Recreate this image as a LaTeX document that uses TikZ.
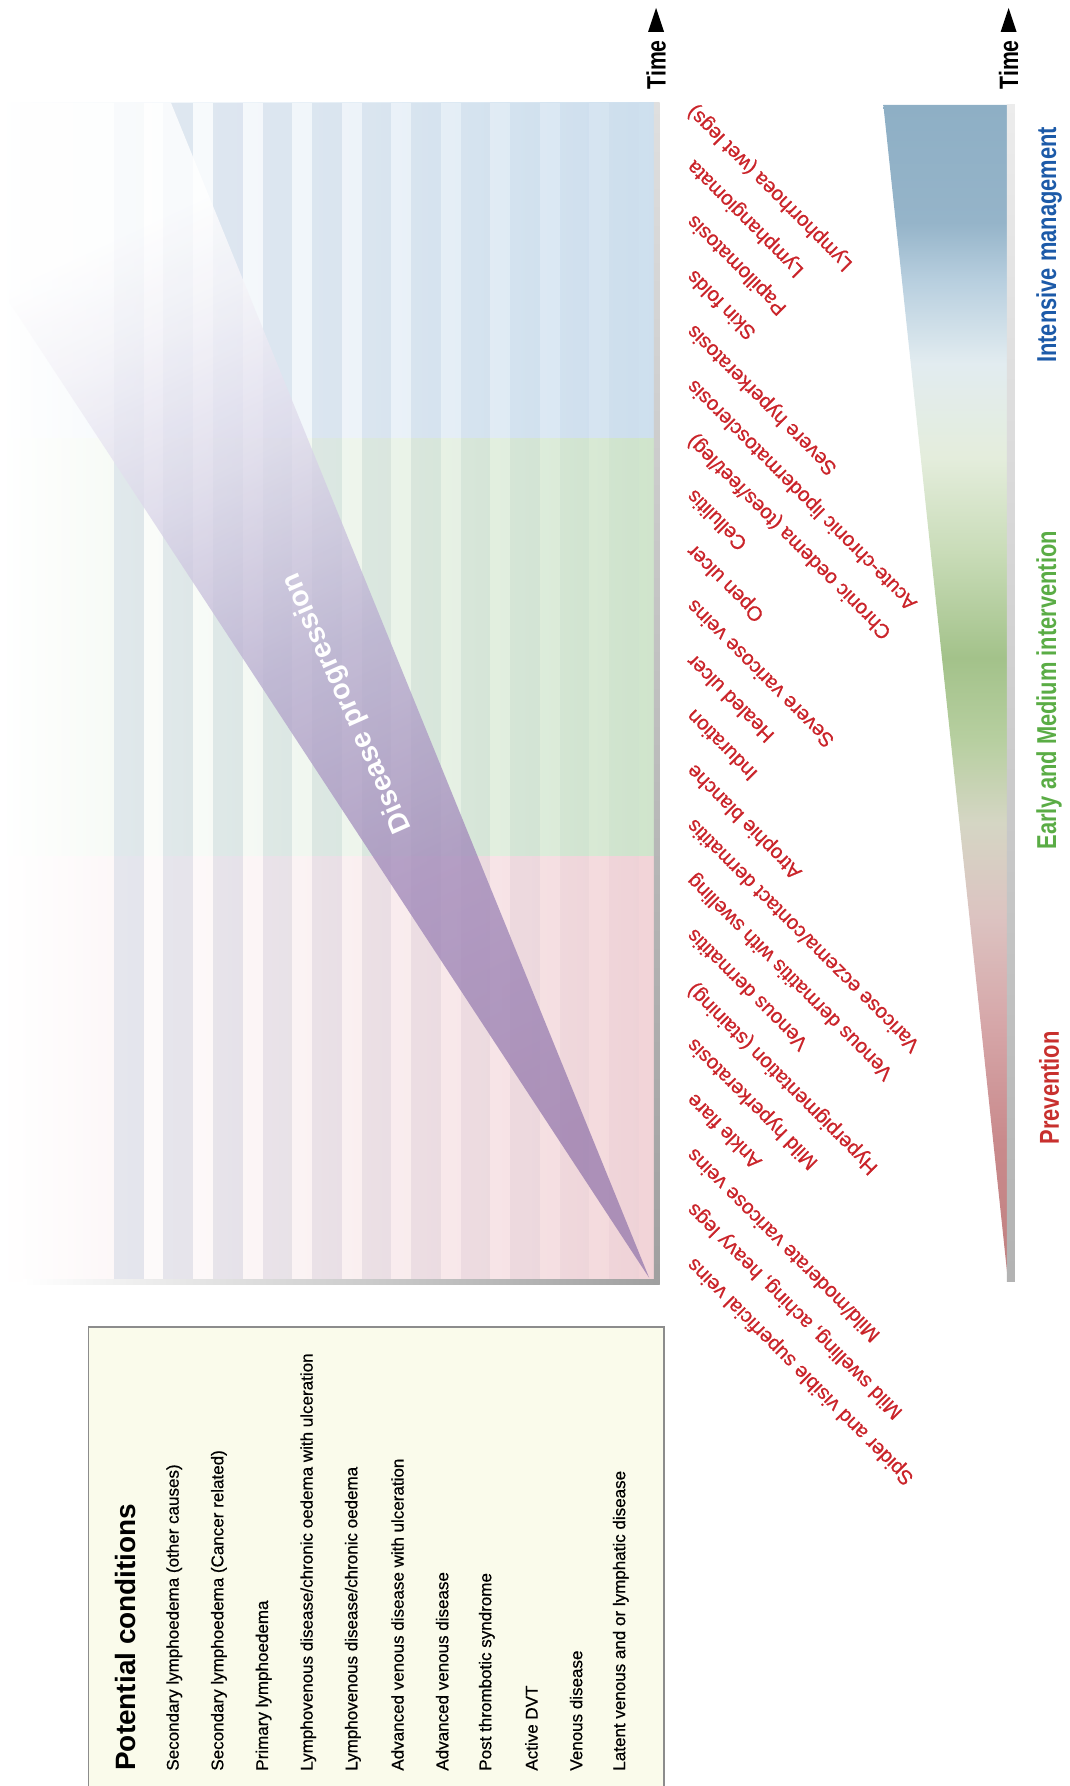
\documentclass[tikz,border=0pt]{standalone}
\usepackage{fontspec}
\setmainfont{Liberation Sans}
\newfontfamily\narrowfont[FakeStretch=0.8]{Liberation Sans}
\newfontfamily\labelfont[FakeBold=0.6]{Liberation Sans}

\definecolor{bandblue}{RGB}{205,223,238}
\definecolor{bandgreen}{RGB}{207,228,203}
\definecolor{bandpink}{RGB}{242,211,215}
\definecolor{bandpeach}{RGB}{238,222,214}
\definecolor{stripeblue}{RGB}{174,191,214}
\definecolor{symptomred}{RGB}{202,36,42}
\definecolor{managblue}{RGB}{28,90,168}
\definecolor{intergreen}{RGB}{90,172,69}
\definecolor{prevred}{RGB}{200,48,46}
\definecolor{boxcream}{RGB}{250,251,235}
\definecolor{boxgray}{RGB}{140,140,140}
% treatment triangle, bottom to top
\definecolor{trA}{RGB}{192,128,128}
\definecolor{trB}{RGB}{201,138,140}
\definecolor{trC}{RGB}{214,167,169}
\definecolor{trD}{RGB}{220,195,193}
\definecolor{trE}{RGB}{213,214,196}
\definecolor{trF}{RGB}{183,207,160}
\definecolor{trG}{RGB}{163,194,138}
\definecolor{trH}{RGB}{201,220,184}
\definecolor{trI}{RGB}{228,237,220}
\definecolor{trJ}{RGB}{226,236,240}
\definecolor{trK}{RGB}{184,207,223}
\definecolor{trL}{RGB}{149,180,201}
\definecolor{trM}{RGB}{142,175,197}
% wedge, apex to top
\definecolor{wgA}{RGB}{154,126,175}
\definecolor{wgB}{RGB}{163,140,187}
\definecolor{wgC}{RGB}{185,174,208}
\definecolor{wgD}{RGB}{220,216,234}
\definecolor{wgE}{RGB}{244,243,248}

\pgfdeclareverticalshading{treatment}{100bp}{color(0bp)=(trA); color(25bp)=(trA);
  color(31bp)=(trB); color(36bp)=(trC); color(40.5bp)=(trD); color(44.5bp)=(trE);
  color(48bp)=(trF); color(51.5bp)=(trG); color(56bp)=(trH); color(60bp)=(trI);
  color(64bp)=(trJ); color(67.5bp)=(trK); color(70bp)=(trL); color(75bp)=(trM);
  color(100bp)=(trM)}
\pgfdeclareverticalshading{wedge}{100bp}{color(0bp)=(wgA); color(25bp)=(wgA);
  color(40bp)=(wgB); color(52bp)=(wgC); color(62bp)=(wgD); color(70bp)=(wgE);
  color(75bp)=(white); color(100bp)=(white)}

\tikzset{every picture/.style={line width=0.75pt}}
\tikzset{
  symptom/.style={anchor=north east, inner sep=0pt, rotate=135, text=symptomred,
    font=\labelfont\fontsize{13.4}{15}\selectfont},
  condition/.style={anchor=west, inner sep=0pt, rotate=90, font=\labelfont\fontsize{11.2}{13}\selectfont},
  timelabel/.style={anchor=west, inner sep=0pt, rotate=90, font=\narrowfont\bfseries\fontsize{17.5}{19}\selectfont},
  phase/.style={inner sep=0pt, rotate=90, font=\narrowfont\bfseries\fontsize{18}{20}\selectfont}
}

\begin{document}
\begin{tikzpicture}[x=0.75pt,y=0.75pt,yscale=-1,xscale=1]
	\useasboundingbox (0,0) rectangle (939,1568);

	%Shape: Bands
	\shade [left color=white, middle color=bandblue!75, right color=bandblue] (0,90) rectangle (578,385);
	\shade [left color=white, middle color=bandgreen!75, right color=bandgreen] (0,385) rectangle (578,752);
	\shade [left color=white, middle color=bandpeach!75, right color=bandpink] (0,752) rectangle (578,870);
	\shade [left color=white, middle color=bandpink!75, right color=bandpink] (0,870) rectangle (578,1125);

	%Shape: Stripes
	\fill [stripeblue, fill opacity=0.30] (100,90) rectangle (126,1125);
	\fill [stripeblue, fill opacity=0.27] (143.5,90) rectangle (169.5,1125);
	\fill [stripeblue, fill opacity=0.25] (187,90) rectangle (213,1125);
	\fill [stripeblue, fill opacity=0.22] (230.5,90) rectangle (256.5,1125);
	\fill [stripeblue, fill opacity=0.20] (274,90) rectangle (300,1125);
	\fill [stripeblue, fill opacity=0.17] (317.5,90) rectangle (343.5,1125);
	\fill [stripeblue, fill opacity=0.15] (361,90) rectangle (387,1125);
	\fill [stripeblue, fill opacity=0.12] (404.5,90) rectangle (430.5,1125);
	\fill [stripeblue, fill opacity=0.10] (448,90) rectangle (474,1125);
	\fill [stripeblue, fill opacity=0.07] (491.5,90) rectangle (517.5,1125);
	\fill [stripeblue, fill opacity=0.05] (535,90) rectangle (561,1125);
	\fill [white, fill opacity=0.55] (126,90) rectangle (143.5,1125);
	\fill [white, fill opacity=0.50] (169.5,90) rectangle (187,1125);
	\fill [white, fill opacity=0.45] (213,90) rectangle (230.5,1125);
	\fill [white, fill opacity=0.40] (256.5,90) rectangle (274,1125);
	\fill [white, fill opacity=0.35] (300,90) rectangle (317.5,1125);
	\fill [white, fill opacity=0.30] (343.5,90) rectangle (361,1125);
	\fill [white, fill opacity=0.25] (387,90) rectangle (404.5,1125);
	\fill [white, fill opacity=0.20] (430.5,90) rectangle (448,1125);
	\fill [white, fill opacity=0.15] (474,90) rectangle (491.5,1125);
	\fill [white, fill opacity=0.10] (517.5,90) rectangle (535,1125);

	%Shape: Disease progression wedge
	\shade [shading=wedge, shading angle=25, fill opacity=0.8] (570,1122) -- (8,265) -- (8,90) -- (150,90) -- cycle;

	%Shape: Axes
	\shade [top color=gray!25, bottom color=gray!75] (574,90) rectangle (579,1128);
	\shade [left color=white, right color=gray!75] (20,1123) rectangle (579,1128);
	\fill (569,28) -- (576,7) -- (583,28) -- cycle;
	\node [timelabel] (time1) at (576,79) {Time};

	% Text Node
	\node [rotate=114, text=white, font=\bfseries\fontsize{18.8}{20}\selectfont] (progression) at (305,617) {Disease progression};

	%Shape: Treatment triangle
	\shade [shading=treatment] (775.5,92) -- (885,92) -- (885,1125) -- cycle;
	\shade [top color=gray!15, bottom color=gray!60] (884,92) rectangle (891,1125);
	\fill (878.5,28) -- (885.5,7) -- (892.5,28) -- cycle;
	\node [timelabel] (time2) at (885.5,79) {Time};
	\node [phase, text=managblue] (intensive) at (921,215) {Intensive management};
	\node [phase, text=intergreen] (early) at (921,606) {Early and Medium intervention};
	\node [phase, text=prevred] (prevention) at (921,955) {Prevention};

	% Symptoms
	\node [symptom] (lymphorrhoea) at (600,101) {Lymphorrhoea (wet legs)};
	\node [symptom] (lymphangiomata) at (600,149.2) {Lymphangiomata};
	\node [symptom] (papillomatosis) at (600,197.4) {Papillomatosis};
	\node [symptom] (skinfolds) at (600,245.6) {Skin folds};
	\node [symptom] (sevhyper) at (600,293.8) {Severe hyperkeratosis};
	\node [symptom] (lipoderm) at (600,342) {Acute-chronic lipodermatosclerosis};
	\node [symptom] (chronoedema) at (600,390.1) {Chronic oedema (toes/feet/leg)};
	\node [symptom] (cellulitis) at (600,438.3) {Cellulitis};
	\node [symptom] (openulcer) at (600,486.5) {Open ulcer};
	\node [symptom] (sevvaricose) at (600,534.7) {Severe varicose veins};
	\node [symptom] (healedulcer) at (600,582.9) {Healed ulcer};
	\node [symptom] (induration) at (600,631.1) {Induration};
	\node [symptom] (atrophie) at (600,679.3) {Atrophie blanche};
	\node [symptom] (eczema) at (600,727.5) {Varicose eczema/contact dermatitis};
	\node [symptom] (dermswelling) at (600,775.7) {Venous dermatitis with swelling};
	\node [symptom] (dermatitis) at (600,823.9) {Venous dermatitis};
	\node [symptom] (pigment) at (600,872) {Hyperpigmentation (staining)};
	\node [symptom] (mildhyper) at (600,920.2) {Mild hyperkeratosis};
	\node [symptom] (ankleflare) at (600,968.4) {Ankle flare};
	\node [symptom] (mildvaricose) at (600,1016.6) {Mild/moderate varicose veins};
	\node [symptom] (mildswelling) at (600,1064.8) {Mild swelling, aching, heavy legs};
	\node [symptom] (spider) at (600,1113) {Spider and visible superficial veins};

	%Shape: Conditions box
	\draw [draw=boxgray, fill=boxcream] (78,1165) rectangle (583,1600);
	\node [condition, font=\bfseries\fontsize{18.4}{20}\selectfont] (conditions) at (110,1555) {Potential conditions};
	\node [condition] (secother) at (153,1555) {Secondary lymphoedema (other causes)};
	\node [condition] (seccancer) at (192.2,1555) {Secondary lymphoedema (Cancer related)};
	\node [condition] (primary) at (231.4,1555) {Primary lymphoedema};
	\node [condition] (lymphoulcer) at (270.6,1555) {Lymphovenous disease/chronic oedema with ulceration};
	\node [condition] (lymphoven) at (309.8,1555) {Lymphovenous disease/chronic oedema};
	\node [condition] (advulcer) at (349,1555) {Advanced venous disease with ulceration};
	\node [condition] (advvenous) at (388.2,1555) {Advanced venous disease};
	\node [condition] (postthromb) at (427.4,1555) {Post thrombotic syndrome};
	\node [condition] (activedvt) at (466.6,1555) {Active DVT};
	\node [condition] (venous) at (505.8,1555) {Venous disease};
	\node [condition] (latent) at (545,1555) {Latent venous and or lymphatic disease};

\end{tikzpicture}
\end{document}
